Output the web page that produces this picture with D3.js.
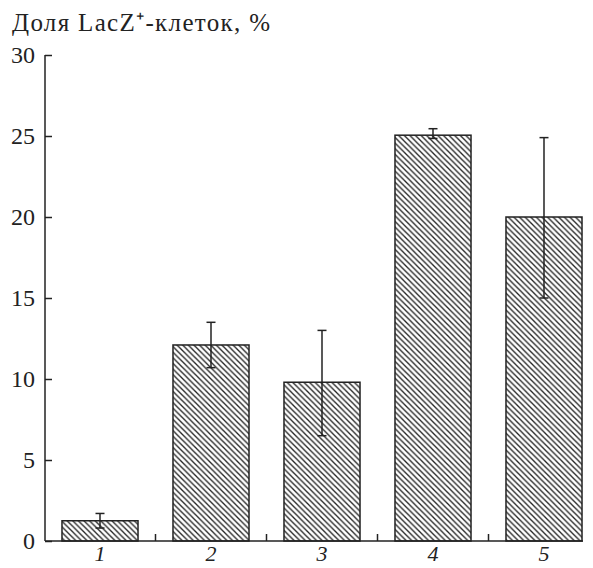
<!DOCTYPE html>
<html><head><meta charset="utf-8">
<script src="https://cdn.jsdelivr.net/npm/d3@7"></script>
<style>body{margin:0;background:#fff}svg{display:block}</style>
</head><body>
<svg id="chart" width="593" height="568"></svg>
<script>
const categories = ["1","2","3","4","5"];
const values = [1.25, 12.1, 9.8, 25.05, 20.0];
const errLow = [0.8, 10.7, 6.5, 24.85, 15.0];
const errHigh = [1.7, 13.5, 13.0, 25.45, 24.9];
const yTicks = [0, 5, 10, 15, 20, 25, 30];
const title = "Доля LacZ⁺-клеток, %";

const FONT = "font-family:'Liberation Serif';";
const svg = d3.select("#chart");
const defs = svg.append("defs");
const pat = defs.append("pattern").attr("id","hatch").attr("patternUnits","userSpaceOnUse")
  .attr("width",5.6).attr("height",5.6);
pat.append("rect").attr("width",5.6).attr("height",5.6).attr("fill","#fff");
pat.append("path").attr("d","M-1,-1 L6.6,6.6 M-1,4.6 L1,6.6 M4.6,-1 L6.6,1")
  .attr("stroke","#222").attr("stroke-width",1.3);

const x0 = 45, yBottom = 541, yTop = 55;
const y = d3.scaleLinear().domain([0,30]).range([yBottom, yTop]);
const x = d3.scaleBand().domain(categories).range([46, 598]).paddingInner(0.315).paddingOuter(0.144);

// title
svg.append("text").attr("x", 12).attr("y", 31)
  .attr("style", FONT + "font-size:25px").attr("textLength", 258).attr("lengthAdjust","spacing")
  .attr("fill","#222").text(title);

// bars
svg.append("g").selectAll("rect").data(categories).join("rect")
  .attr("x", d => x(d)).attr("width", x.bandwidth())
  .attr("y", (d,i) => y(values[i])).attr("height", (d,i) => y(0) - y(values[i]))
  .attr("fill","url(#hatch)").attr("stroke","#222").attr("stroke-width",1.5);

// error bars
const eg = svg.append("g").attr("stroke","#222").attr("stroke-width",1.5);
categories.forEach((d,i) => {
  const cx = x(d) + x.bandwidth()/2;
  eg.append("line").attr("x1",cx).attr("x2",cx).attr("y1",y(errLow[i])).attr("y2",y(errHigh[i]));
  eg.append("line").attr("x1",cx-4.5).attr("x2",cx+4.5).attr("y1",y(errHigh[i])).attr("y2",y(errHigh[i]));
  eg.append("line").attr("x1",cx-4.5).attr("x2",cx+4.5).attr("y1",y(errLow[i])).attr("y2",y(errLow[i]));
});

// y axis
const yAxis = d3.axisRight(y).tickValues(yTicks).tickSize(7).tickFormat("");
const ga = svg.append("g").attr("transform",`translate(${x0},0)`).call(yAxis);
ga.select(".domain").remove();
ga.selectAll("line").attr("stroke","#222").attr("stroke-width",1.5);
svg.append("line").attr("x1",x0).attr("x2",x0).attr("y1",yTop).attr("y2",yBottom)
  .attr("stroke","#222").attr("stroke-width",1.5);
svg.append("g").selectAll("text").data(yTicks).join("text")
  .attr("x", 35).attr("y", d => y(d) + 8).attr("text-anchor","end")
  .attr("style", FONT + "font-size:24px").attr("fill","#222").text(d => d);

// x axis
svg.append("line").attr("x1",x0).attr("x2",583).attr("y1",yBottom).attr("y2",yBottom)
  .attr("stroke","#222").attr("stroke-width",1.5);
const sepTicks = categories.slice(1).map(d => x(d) - x.step()*x.paddingInner()/2);
svg.append("g").selectAll("line").data(sepTicks).join("line")
  .attr("x1", d => d).attr("x2", d => d).attr("y1", yBottom).attr("y2", yBottom - 7)
  .attr("stroke","#222").attr("stroke-width",1.5);
svg.append("g").selectAll("text").data(categories).join("text")
  .attr("x", d => x(d) + x.bandwidth()/2).attr("y", 561).attr("text-anchor","middle")
  .attr("style", FONT + "font-style:italic;font-size:22px").attr("fill","#222").text(d => d);
</script>
</body></html>
